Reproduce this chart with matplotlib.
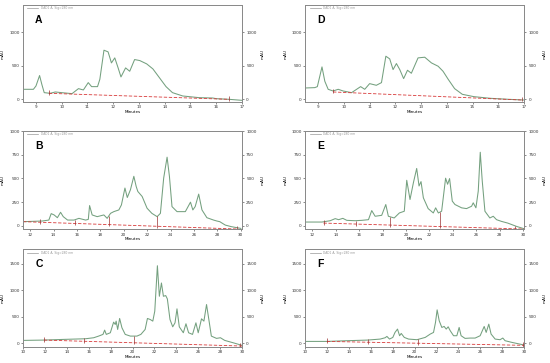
import numpy as np
import matplotlib
matplotlib.use('Agg')
from matplotlib import pyplot as plt

matplotlib.rcParams['font.family'] = 'DejaVu Sans'

# ---- traces (time in minutes, signal in mAU) ----
a_t = [8.5, 8.9, 9.0, 9.14, 9.23, 9.32, 9.55, 9.75, 10.0, 10.4, 10.65, 10.84, 11.03, 11.16,
       11.39, 11.48, 11.64, 11.8, 11.93, 12.06, 12.19, 12.3, 12.48, 12.64, 12.83, 13.03,
       13.3, 13.54, 13.8, 14.05, 14.3, 14.7, 15.34, 15.86, 16.0, 16.5, 17.0]
a_v = [150, 150, 200, 356, 220, 100, 90, 110, 100, 85, 160, 140, 250, 190,
       190, 300, 735, 710, 545, 620, 470, 335, 470, 420, 595, 580,
       530, 455, 320, 190, 100, 50, 25, 20, 10, 0, -15]
a_base = [9.5, 16.5, 90, 0]
a_cuts = [9.5, 16.5]

d_t = [8.52, 8.87, 8.97, 9.15, 9.26, 9.39, 9.58, 9.78, 9.97, 10.3, 10.65, 10.81, 11.0,
       11.26, 11.46, 11.63, 11.78, 11.91, 12.04, 12.17, 12.32, 12.47, 12.62, 12.88, 13.14,
       13.4, 13.66, 13.85, 14.05, 14.3, 14.6, 15.05, 15.7, 16.4, 17.0]
d_v = [170, 175, 190, 485, 270, 150, 125, 150, 125, 100, 190, 150, 235,
       210, 250, 645, 605, 445, 535, 445, 310, 435, 390, 620, 630,
       545, 495, 420, 300, 160, 75, 40, 15, 0, -10]
d_base = [9.58, 16.9, 110, -10]
d_cuts = [9.58, 16.9]

b_t = [11.4, 13.05, 13.6, 13.8, 14.05, 14.33, 14.6, 14.83, 15.2, 15.75, 16.17, 16.74, 16.97,
       17.08, 17.3, 17.73, 18.3, 18.58, 18.87, 19.15, 19.58, 19.8, 20.1, 20.3, 20.57, 20.86,
       21.06, 21.2, 21.57, 21.99, 22.4, 22.85, 23.13, 23.41, 23.7, 23.9, 24.12, 24.55, 25.26,
       25.7, 25.9, 26.1, 26.4, 26.68, 27.1, 27.67, 27.95, 28.2, 28.67, 29.2, 30.0]
b_v = [43, 50, 60, 128, 114, 85, 142, 96, 60, 60, 78, 60, 67,
       213, 114, 96, 114, 78, 131, 149, 167, 220, 398, 298, 380, 522,
       415, 362, 309, 185, 131, 96, 131, 504, 724, 522, 202, 149, 149,
       249, 167, 202, 334, 167, 85, 60, 50, 43, 7, -10, -28]
b_base = [11.4, 29.8, 43, -35]
b_cuts = [12.85, 15.83, 18.7, 22.87, 29.7]

e_t = [11.4, 12.82, 13.53, 13.96, 14.25, 14.61, 14.95, 15.66, 16.23, 16.8, 17.08, 17.37,
       17.93, 18.28, 18.5, 19.0, 19.44, 19.86, 20.07, 20.35, 20.64, 20.92, 21.12, 21.29,
       21.49, 21.9, 22.34, 22.54, 22.77, 23.05, 23.39, 23.56, 23.73, 23.96, 24.19, 24.76,
       25.18, 25.61, 25.75, 25.98, 26.18, 26.35, 26.52, 26.75, 27.17, 27.46, 27.74, 28.16,
       28.7, 29.45, 30.1]
e_v = [39, 39, 53, 75, 64, 78, 57, 53, 57, 64, 160, 100,
       110, 224, 100, 82, 135, 153, 480, 277, 455, 605, 420, 466,
       295, 181, 135, 189, 135, 153, 502, 438, 498, 260, 224, 189,
       181, 206, 242, 189, 367, 776, 473, 153, 82, 100, 64, 46,
       28, -7, -32]
e_base = [12.96, 30.1, 28, -35]
e_cuts = [12.96, 15.7, 18.6, 22.9, 29.3]

c_t = [10.0, 11.9, 13.73, 15.7, 16.45, 16.9, 17.3, 17.45, 17.6, 17.97, 18.27, 18.42, 18.5,
       18.64, 18.82, 19.03, 19.33, 19.8, 20.4, 20.76, 21.15, 21.36, 21.61, 21.85, 22.03,
       22.27, 22.45, 22.64, 22.82, 23.03, 23.18, 23.42, 23.67, 23.88, 24.06, 24.27, 24.64,
       24.88, 25.12, 25.48, 25.79, 26.0, 26.3, 26.52, 26.76, 26.97, 27.2, 27.67, 28.03,
       28.42, 29.18, 30.0]
c_v = [56, 62, 75, 87, 106, 137, 169, 250, 169, 200, 400, 356, 419,
       262, 469, 294, 169, 137, 137, 169, 262, 469, 450, 419, 606,
       1462, 887, 1137, 887, 900, 837, 450, 312, 387, 650, 312, 200,
       369, 200, 169, 387, 200, 462, 419, 731, 450, 137, 94, 106,
       56, 12, -37]
c_base = [11.9, 30.0, 62, -50]
c_cuts = [11.9, 15.6, 20.15, 29.8]

f_t = [10.0, 11.98, 13.8, 15.69, 16.85, 17.3, 17.46, 17.7, 18.0, 18.2, 18.43, 18.62, 18.77,
       19.05, 19.44, 20.2, 20.96, 21.42, 21.72, 21.9, 22.05, 22.24, 22.48, 22.69, 22.88,
       23.06, 23.25, 23.55, 23.85, 24.06, 24.24, 24.6, 25.07, 25.52, 25.98, 26.35, 26.53,
       26.77, 26.98, 27.35, 27.8, 28.05, 28.26, 28.87, 30.0]
f_v = [37, 37, 50, 62, 81, 106, 131, 81, 112, 206, 269, 144, 187,
       112, 81, 69, 112, 175, 206, 394, 631, 425, 300, 319, 269,
       312, 237, 144, 144, 300, 144, 94, 100, 100, 144, 319, 206,
       362, 175, 81, 69, 100, 50, 19, -31]
f_base = [11.98, 30.0, 37, -37]
f_cuts = [11.98, 15.69, 20.3, 29.9]

panels = [
    ('A', a_t, a_v, a_base, a_cuts, (8.5, 17), range(9, 18), (-40, 1410), [0, 500, 1000]),
    ('D', d_t, d_v, d_base, d_cuts, (8.5, 17), range(9, 18), (-40, 1410), [0, 500, 1000]),
    ('B', b_t, b_v, b_base, b_cuts, (11.4, 30.1), range(12, 31, 2), (-35, 1000), [0, 250, 500, 750, 1000]),
    ('E', e_t, e_v, e_base, e_cuts, (11.4, 30.1), range(12, 31, 2), (-35, 1000), [0, 250, 500, 750, 1000]),
    ('C', c_t, c_v, c_base, c_cuts, (10, 30), range(10, 31, 2), (-62, 1770), [0, 500, 1000, 1500]),
    ('F', f_t, f_v, f_base, f_cuts, (10, 30), range(10, 31, 2), (-62, 1770), [0, 500, 1000, 1500]),
]

# axes boxes in figure fractions
lefts = [0.042, 0.555]
rows = [(0.719, 0.267), (0.369, 0.270), (0.045, 0.268)]

trace_col = '#74a07f'
red = '#d83a3a'
spine_col = '#8a8a8a'

fig = plt.figure(figsize=(5.5, 3.63), dpi=100)

for i, (lab, t, v, base, cuts, xl, xt, yl, yt) in enumerate(panels):
    col = i % 2
    row = i // 2
    ax = fig.add_axes([lefts[col], rows[row][0], 0.398, rows[row][1]])
    ax.plot(t, v, color=trace_col, lw=0.75)
    ax.plot(base[:2], base[2:], color=red, lw=0.6, ls=(0, (4, 2)))
    bt = np.array(cuts)
    bv = np.interp(bt, base[:2], base[2:])
    tv = np.interp(bt, t, v)
    ax.vlines(bt, bv - (yl[1] - yl[0]) * 0.015, np.maximum(tv, bv + (yl[1] - yl[0]) * 0.03),
              color='#9a3030', lw=0.5)
    ax.set_xlim(*xl)
    ax.set_ylim(*yl)
    ax.set_xticks(list(xt))
    ax.set_yticks(yt)
    ax.tick_params(labelsize=3, length=1.5, width=0.4, pad=1, colors='#333333')
    ax.set_xlabel('Minutes', fontsize=3, labelpad=0.5)
    ax.set_ylabel('mAU', fontsize=3, labelpad=3)
    for s in ax.spines.values():
        s.set_color(spine_col)
        s.set_linewidth(0.7)
    ax2 = ax.twinx()
    ax2.set_ylim(*yl)
    ax2.set_yticks(yt)
    ax2.tick_params(labelsize=3, length=1.5, width=0.4, pad=1.5, colors='#333333')
    ax2.set_ylabel('mAU', fontsize=3, labelpad=3)
    for s in ax2.spines.values():
        s.set_color(spine_col)
        s.set_linewidth(0.7)
    ax.text(0.055, 0.85, lab, transform=ax.transAxes, fontsize=7.5, fontweight='bold',
            ha='left', va='center', family='Liberation Sans')
    ax.plot([0.02, 0.07], [0.965, 0.965], transform=ax.transAxes, color='#999999', lw=0.5)
    ax.text(0.08, 0.965, 'DAD1 A, Sig=280 nm', transform=ax.transAxes, fontsize=2.2,
            color='#999999', va='center')

fig.savefig('out.png', dpi=100)
